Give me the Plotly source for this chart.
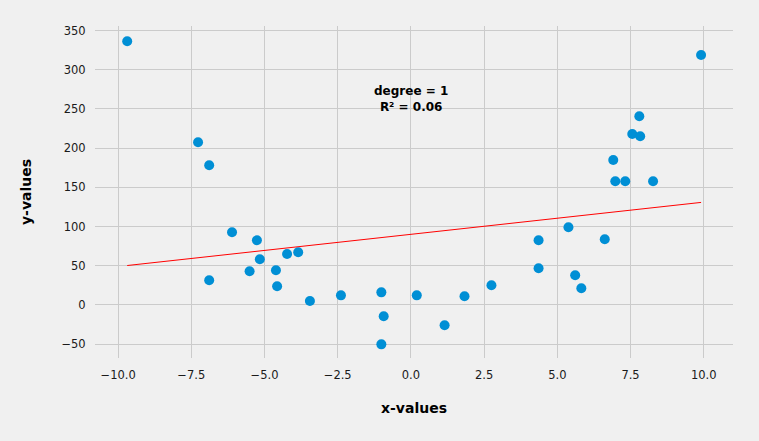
import numpy as np
import plotly.graph_objects as go

x_values = [-9.69, -7.27, -6.89, -6.11, -5.26, -5.16, -4.23, -3.85, -5.51, -4.61,
            -6.89, -4.57, -3.45, -2.39, -1.01, -0.93, -1.01, 0.20, 1.15, 1.83,
            2.75, 9.91, 7.80, 7.56, 7.83, 6.91, 6.98, 7.32, 8.27, 5.38,
            4.36, 6.62, 4.36, 5.61, 5.82]
y_values = [336.2, 207.4, 178.1, 92.6, 82.4, 58.2, 64.9, 67.1, 42.9, 44.1,
            31.4, 23.7, 5.0, 12.2, 16.0, -14.5, -50.3, 12.2, -26.0, 11.0,
            25.0, 318.7, 240.6, 218.0, 215.0, 184.8, 157.7, 157.7, 157.7, 99.0,
            82.4, 83.7, 46.7, 37.8, 21.2]

x_ticks = [-10.0, -7.5, -5.0, -2.5, 0.0, 2.5, 5.0, 7.5, 10.0]
y_ticks = [-50, 0, 50, 100, 150, 200, 250, 300, 350]

xa = np.array(x_values)
ya = np.array(y_values)
slope, intercept = np.polyfit(xa, ya, 1)
pred = slope * xa + intercept
r2 = 1 - np.sum((ya - pred) ** 2) / np.sum((ya - ya.mean()) ** 2)
x_line = np.array([xa.min(), xa.max()])
y_line = slope * x_line + intercept

BG = "#f0f0f0"
GRID = "#cbcbcb"
FONT = "DejaVu Sans"

fig = go.Figure()
fig.add_trace(go.Scatter(x=x_values, y=y_values, mode="markers",
                         marker=dict(color="#008fd5", size=10, line=dict(width=0)),
                         showlegend=False))
fig.add_trace(go.Scatter(x=x_line, y=y_line, mode="lines",
                         line=dict(color="red", width=1), showlegend=False))

fig.add_annotation(x=0, y=262, xref="x", yref="y",
                   text=f"<b>degree = 1<br>R² = {r2:.2f}</b>",
                   showarrow=False, font=dict(family=FONT, size=12, color="black"),
                   align="center")

fig.update_layout(
    width=759, height=441,
    margin=dict(l=95, r=26, t=26, b=83),
    paper_bgcolor=BG, plot_bgcolor=BG,
    font=dict(family=FONT, size=12, color="#222222"),
)
fig.update_xaxes(range=[-10.79, 11.0], tickvals=x_ticks,
                 ticktext=[f"{v:.1f}".replace("-", "−") for v in x_ticks],
                 showgrid=True, gridcolor=GRID, gridwidth=1, zeroline=False,
                 showline=False, ticks="outside", ticklen=6, tickcolor=BG,
                 tickfont=dict(family=FONT, size=11.5, color="#1a1a1a"),
                 title=dict(text="<b>x-values</b>", standoff=22,
                            font=dict(family=FONT, size=14, color="black")))
fig.update_yaxes(range=[-67.7, 355.7], tickvals=y_ticks,
                 ticktext=[str(v).replace("-", "−") for v in y_ticks],
                 showgrid=True, gridcolor=GRID, gridwidth=1, zeroline=False,
                 showline=False, ticks="outside", ticklen=6, tickcolor=BG,
                 tickfont=dict(family=FONT, size=11.5, color="#1a1a1a"),
                 title=dict(text="<b>y-values</b>", standoff=26,
                            font=dict(family=FONT, size=14, color="black")))

fig.write_html("out.html")
